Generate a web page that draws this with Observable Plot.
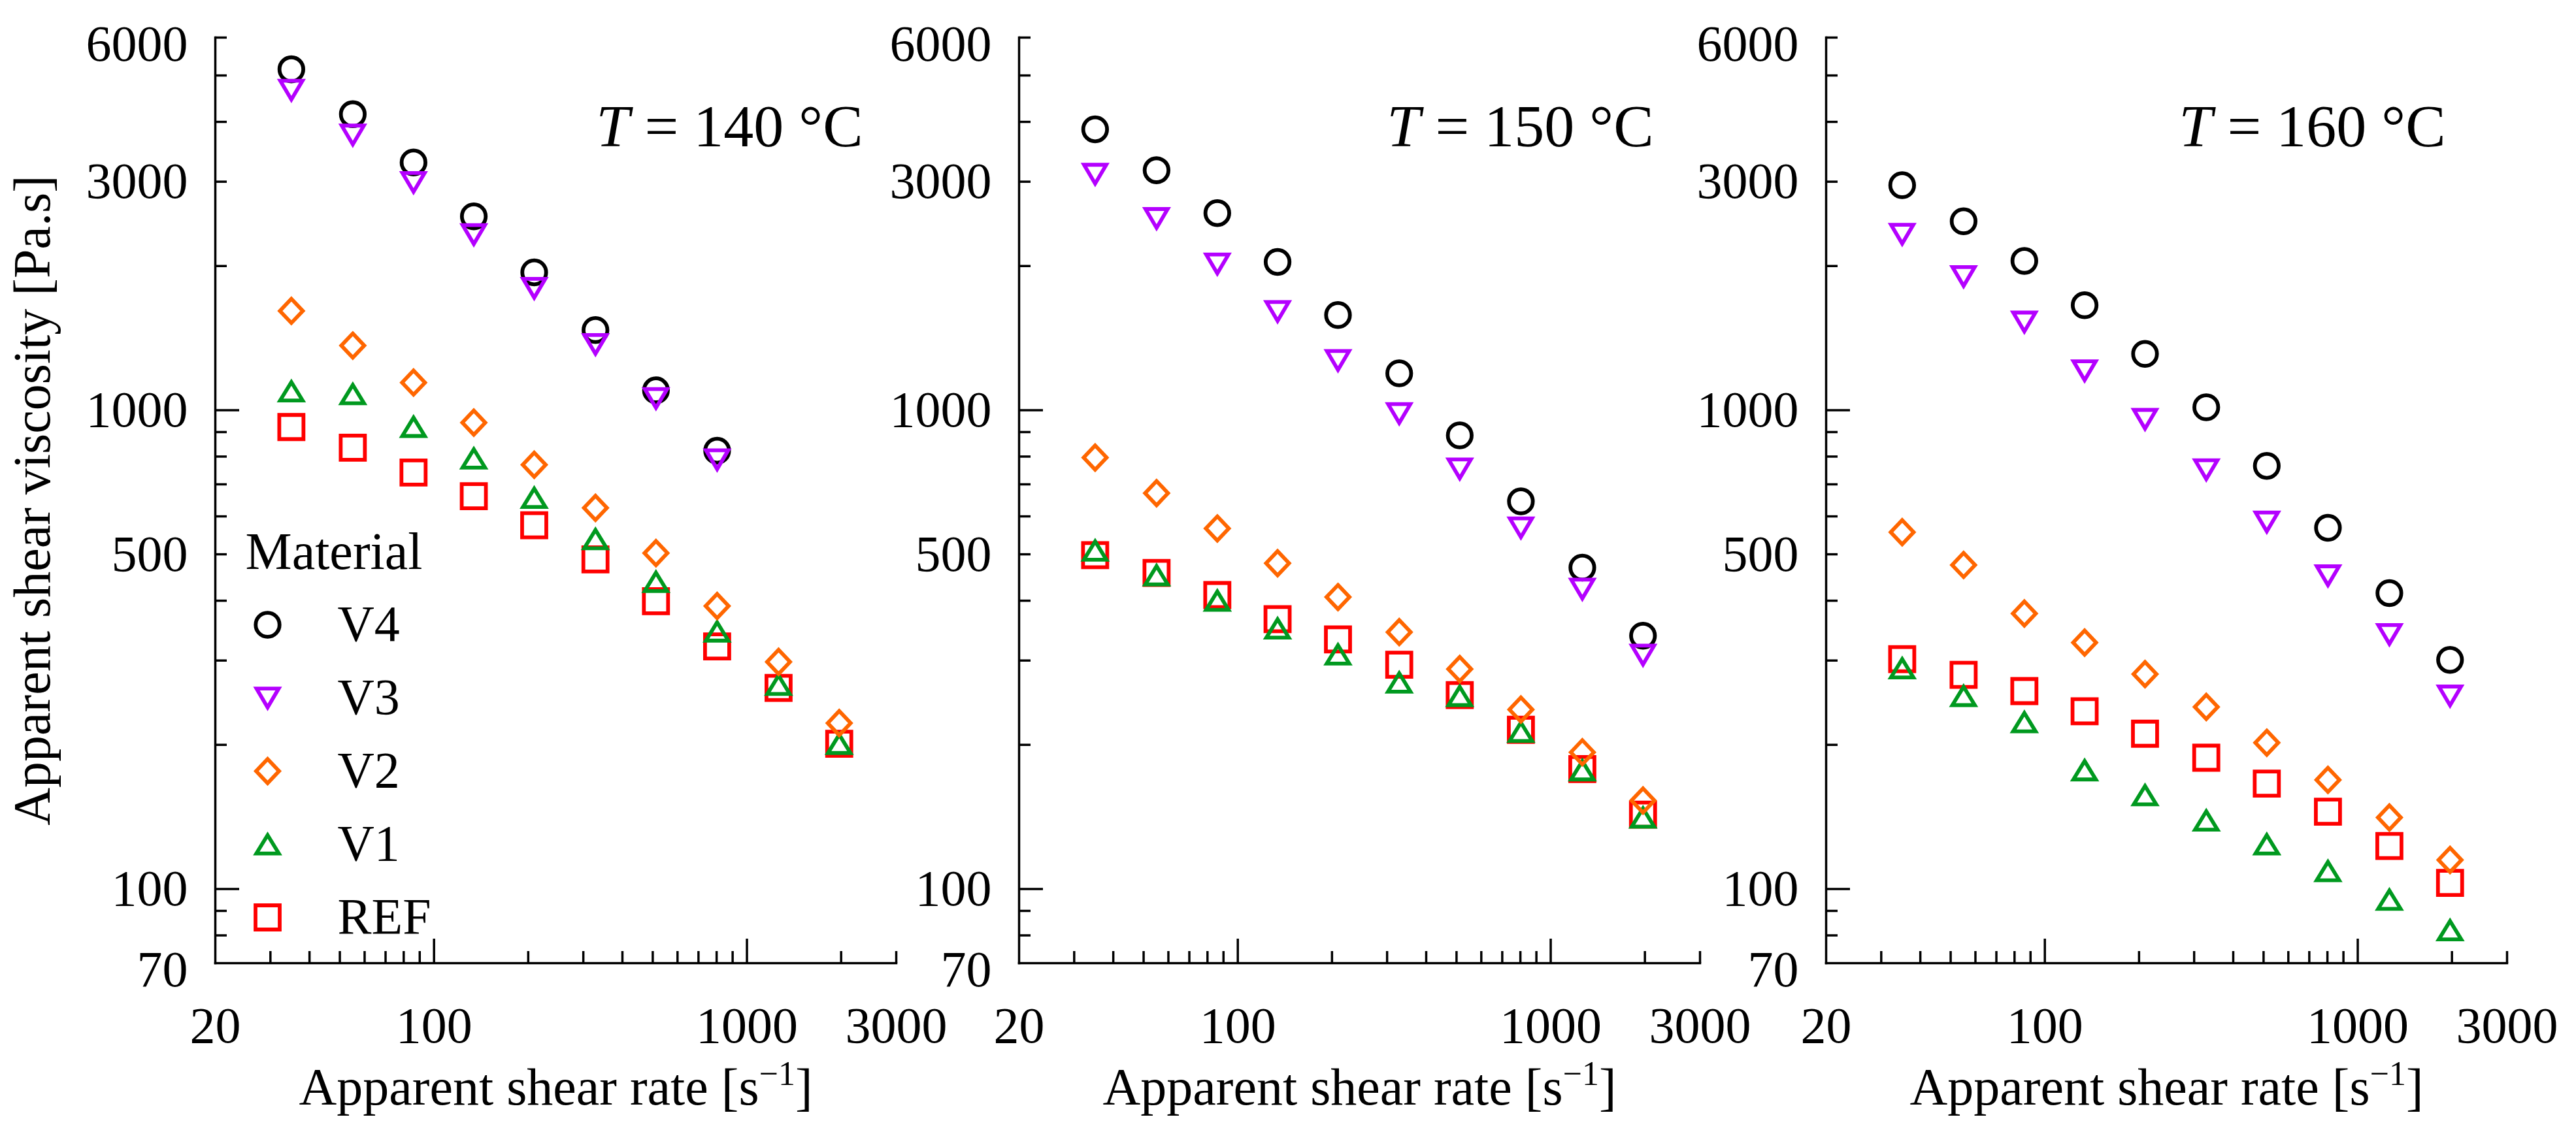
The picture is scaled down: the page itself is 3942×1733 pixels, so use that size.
<!DOCTYPE html>
<html><head><meta charset="utf-8">
<script src="https://cdn.jsdelivr.net/npm/d3@7"></script>
<script src="https://cdn.jsdelivr.net/npm/@observablehq/plot@0.6"></script>
<style>
html,body{margin:0;padding:0;background:#fff;font-family:'Liberation Serif';}
#chart{position:relative;width:3942px;height:1733px;background:#fff;overflow:hidden;}
#chart svg{position:absolute;top:0;overflow:visible;}
</style></head><body><div id="chart"></div>
<script>
// ---------------- data ----------------
const shearRate = [35, 55, 86, 134, 209, 328, 512, 803, 1262, 1972];
const temperatures = [140, 150, 160];
const materials = ["V4", "V3", "V2", "V1", "REF"];
// viscosity [Pa.s] per temperature (140, 150, 160 °C)
const V4 = [
  [5150, 4150, 3290, 2540, 1940, 1470, 1100, 823],
  [3860, 3170, 2580, 2040, 1580, 1194, 886, 645, 469, 338],
  [2950, 2480, 2050, 1656, 1311, 1014, 765, 568, 415, 301]
];
const V3 = [
  [4660, 3755, 2990, 2327, 1797, 1372, 1058, 788],
  [3110, 2514, 2020, 1607, 1270, 984, 754, 568, 423, 308],
  [2331, 1902, 1528, 1209, 957, 751, 584, 451, 340, 253]
];
const V2 = [
  [1612, 1364, 1142, 942, 769, 625, 503, 390, 298, 222],
  [796, 671, 566, 479, 407, 344, 288, 237, 193, 153],
  [556, 475, 376, 327, 281, 240, 202, 169, 141, 115]
];
const V1 = [
  [1095, 1080, 923, 793, 656, 538, 438, 345, 267, 201],
  [509, 452, 400, 350, 309, 270, 253, 213, 177, 141],
  [289, 253, 223, 177, 157, 139, 124, 109, 95, 82]
];
const REF = [
  [922, 835, 741, 661, 575, 488, 399, 321, 263, 201],
  [498, 457, 411, 366, 332, 294, 254, 215, 178, 143],
  [302, 280, 259, 235, 211, 188, 166, 145, 123, 103]
];
const xTickLabels = [20, 100, 1000, 3000];
const xMajorTicks = [100, 1000];
const xMinorTicks = [30, 40, 50, 60, 70, 80, 90, 200, 300, 400, 500, 600, 700, 800, 900, 2000, 3000];
const yTickLabels = [100, 500, 1000, 3000];
const yEdgeLabels = [70, 6000];
const yMajorTicks = [100, 1000];
const yMinorTicks = [80, 90, 200, 300, 400, 500, 600, 700, 800, 900, 2000, 3000, 4000, 5000, 6000];
const xLabel = "Apparent shear rate [s⁻¹]";
const yLabel = "Apparent shear viscosity [Pa.s]";
const legendTitle = "Material";

// ---------------- styles ----------------
const seriesValues = {V4, V3, V2, V1, REF};
const colors = {V4: "#000000", V3: "#b400ff", V2: "#ff6600", V1: "#00991f", REF: "#ff0000"};
const symbols = {
  V4: {draw(c, size){const s = Math.sqrt(size/Math.PI)*0.985; c.moveTo(s,0); c.arc(0,0,s,0,2*Math.PI); c.closePath();}},
  V3: {draw(c, size){const s = Math.sqrt(size/Math.PI); const w = 0.92*s, h = 0.78*s; c.moveTo(-w,-h); c.lineTo(w,-h); c.lineTo(0,h); c.closePath();}},
  V2: {draw(c, size){const s = Math.sqrt(size/Math.PI); const w = 0.95*s, h = 1.0*s; c.moveTo(0,-h); c.lineTo(w,0); c.lineTo(0,h); c.lineTo(-w,0); c.closePath();}},
  V1: {draw(c, size){const s = Math.sqrt(size/Math.PI); const w = 0.93*s, h = 0.76*s; c.moveTo(0,-h); c.lineTo(w,h); c.lineTo(-w,h); c.closePath();}},
  REF: {draw(c, size){const s = Math.sqrt(size/Math.PI); c.moveTo(-s,-s); c.lineTo(s,-s); c.lineTo(s,s); c.lineTo(-s,s); c.closePath();}}
};
const drawOrder = ["REF", "V1", "V2", "V4", "V3"];
const FONT = "Liberation Serif";
const R = 18.5, SW = 5.8, AXW = 3.5;
const frameW = 1042, frameTop = 57, frameBottom = 1474, H = 1733;
const panelAxisX = [329, 1559, 2794];
const titleInset = [51, 71, 94];

function rowsFor(t) {
  const rows = [];
  for (const m of materials) {
    seriesValues[m][t].forEach((v, j) => rows.push({rate: shearRate[j], visc: v, material: m}));
  }
  return rows;
}

function panel(t) {
  const first = t === 0;
  const mL = first ? 329 : 200, mR = 110;
  const data = rowsFor(t);
  const txt = {fontFamily: FONT, fill: "black"};
  const marks = [
    Plot.frame({anchor: "left", stroke: "black", strokeWidth: AXW}),
    Plot.frame({anchor: "bottom", stroke: "black", strokeWidth: AXW}),
    Plot.axisX({ticks: xMinorTicks, tickSize: -18, fill: "none", stroke: "black", strokeWidth: AXW, label: null}),
    Plot.axisX({ticks: xMajorTicks, tickSize: -37, fill: "none", stroke: "black", strokeWidth: AXW, label: null}),
    Plot.axisX({ticks: xTickLabels, tickSize: 0, tickPadding: 66, tickFormat: d => String(d), fontSize: 78, ...txt, label: null}),
    Plot.axisY({ticks: yMinorTicks, tickSize: -18, fill: "none", stroke: "black", strokeWidth: AXW, label: null}),
    Plot.axisY({ticks: yMajorTicks, tickSize: -37, fill: "none", stroke: "black", strokeWidth: AXW, label: null}),
    Plot.axisY({ticks: yTickLabels, tickSize: 0, tickPadding: 42, tickFormat: d => String(d), fontSize: 78, ...txt, label: null}),
    Plot.text(yEdgeLabels, {y: d => d, text: d => String(d), frameAnchor: "left", dx: -42, dy: 11, textAnchor: "end", lineAnchor: "middle", fontSize: 78, ...txt}),
    Plot.text([xLabel], {text: d => d, frameAnchor: "bottom", dy: 216, lineAnchor: "bottom", textAnchor: "middle", fontSize: 80, ...txt}),
    Plot.text([`T = ${temperatures[t]} °C`], {text: d => d, frameAnchor: "top-right", dx: -titleInset[t], dy: 166, lineAnchor: "bottom", textAnchor: "end", fontSize: 92, ...txt})
  ];
  for (const m of drawOrder) {
    marks.push(Plot.dot(data.filter(d => d.material === m), {x: "rate", y: "visc", r: R, symbol: symbols[m], stroke: colors[m], strokeWidth: SW, fill: "none"}));
  }
  if (first) {
    marks.push(Plot.text([yLabel], {text: d => d, frameAnchor: "left", rotate: -90, dx: -254, textAnchor: "middle", lineAnchor: "bottom", fontSize: 80, ...txt}));
    marks.push(Plot.text([legendTitle], {text: d => d, frameAnchor: "top-left", dx: 46, dy: 813, textAnchor: "start", lineAnchor: "bottom", fontSize: 80, ...txt}));
    materials.forEach((m, i) => {
      marks.push(Plot.dot([m], {frameAnchor: "top-left", dx: 80, dy: 899 + i * 112, r: R, symbol: symbols[m], stroke: colors[m], strokeWidth: SW, fill: "none"}));
      marks.push(Plot.text([m], {text: d => d, frameAnchor: "top-left", dx: 187, dy: 899 + i * 112, textAnchor: "start", lineAnchor: "middle", fontSize: 78, ...txt}));
    });
  }
  const svg = Plot.plot({
    width: mL + frameW + mR,
    height: H,
    marginLeft: mL, marginRight: mR, marginTop: frameTop, marginBottom: H - frameBottom,
    x: {type: "log", domain: [20, 3000]},
    y: {type: "log", domain: [70, 6000]},
    marks
  });
  svg.style.position = "absolute";
  svg.style.overflow = "visible";
  svg.style.background = "transparent";
  svg.style.left = (panelAxisX[t] - mL) + "px";
  svg.setAttribute("font-family", FONT);
  const NS = "http://www.w3.org/2000/svg";
  svg.querySelectorAll("text").forEach(el => {
    el.style.fontFamily = "'Liberation Serif'";
    const s = el.textContent;
    if (s.startsWith("T = ")) {
      el.textContent = "";
      const a = document.createElementNS(NS, "tspan"); a.style.fontStyle = "italic"; a.textContent = "T";
      const b = document.createElementNS(NS, "tspan"); b.textContent = s.slice(1);
      el.appendChild(a); el.appendChild(b);
    } else if (s === xLabel) {
      el.textContent = "";
      const a = document.createElementNS(NS, "tspan"); a.textContent = "Apparent shear rate [s";
      const b = document.createElementNS(NS, "tspan"); b.setAttribute("dy", "-30"); b.setAttribute("font-size", "52"); b.textContent = "−1";
      const c = document.createElementNS(NS, "tspan"); c.setAttribute("dy", "30"); c.textContent = "]";
      el.appendChild(a); el.appendChild(b); el.appendChild(c);
    }
  });
  return svg;
}

const chart = document.getElementById("chart");
temperatures.forEach((_, t) => chart.appendChild(panel(t)));
</script></body></html>
